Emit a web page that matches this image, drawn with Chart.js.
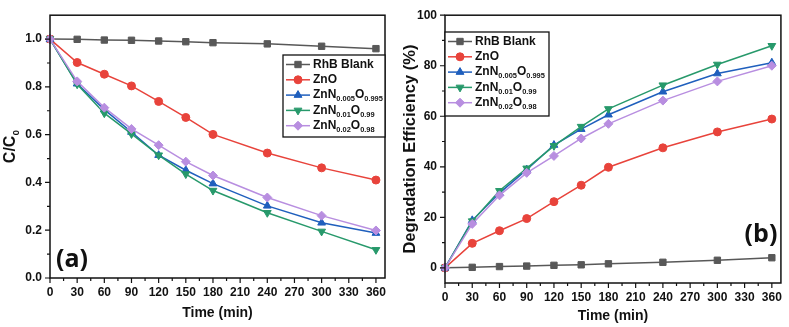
<!DOCTYPE html>
<html>
<head>
<meta charset="utf-8">
<script src="https://cdn.jsdelivr.net/npm/chart.js@4.4.1/dist/chart.umd.min.js"></script>
<style>
  html, body { margin: 0; padding: 0; background: #fff; }
  .panel { position: absolute; top: 0; height: 327px; }
  #panelA { left: 0; width: 395px; }
  #panelB { left: 395px; width: 394px; }
</style>
</head>
<body>
<div class="panel" id="panelA"><canvas id="chartA" width="395" height="327"></canvas></div>
<div class="panel" id="panelB"><canvas id="chartB" width="394" height="327"></canvas></div>
<script>
// sampling times (min)
const times = [0, 30, 60, 90, 120, 150, 180, 240, 300, 360];
const xTicks = [0, 30, 60, 90, 120, 150, 180, 210, 240, 270, 300, 330, 360];
const ratioTicks = [0, 0.2, 0.4, 0.6, 0.8, 1.0];
const effTicks = [0, 20, 40, 60, 80, 100];

const seriesNames = ['RhB Blank', 'ZnO', 'ZnN_{0.005}O_{0.995}', 'ZnN_{0.01}O_{0.99}', 'ZnN_{0.02}O_{0.98}'];

// (a) C/C0
const ratioBlank = [1.0, 0.999, 0.996, 0.995, 0.992, 0.989, 0.985, 0.98, 0.97, 0.96];
const ratioZnO = [1.0, 0.902, 0.853, 0.804, 0.739, 0.672, 0.601, 0.523, 0.461, 0.41];
const ratioN005 = [1.0, 0.813, 0.705, 0.611, 0.514, 0.451, 0.395, 0.302, 0.231, 0.188];
const ratioN01 = [1.0, 0.811, 0.69, 0.603, 0.514, 0.435, 0.366, 0.273, 0.195, 0.118];
const ratioN02 = [1.0, 0.823, 0.713, 0.624, 0.556, 0.487, 0.429, 0.337, 0.261, 0.199];

// (b) degradation efficiency (%)
const effBlank = [0, 0.2, 0.5, 0.7, 1.0, 1.2, 1.6, 2.2, 3.0, 4.0];
const effZnO = [0, 9.7, 14.7, 19.5, 26.2, 32.7, 39.8, 47.5, 53.8, 58.9];
const effN005 = [0, 18.8, 29.6, 38.9, 48.6, 54.9, 60.6, 69.7, 76.9, 81.2];
const effN01 = [0, 18.5, 30.5, 39.4, 48.3, 55.9, 62.9, 72.3, 80.5, 87.9];
const effN02 = [0, 17.4, 28.7, 37.6, 44.3, 51.2, 57.0, 66.2, 73.8, 80.0];

const seriesStyles = [
  { color: '#585858', pointStyle: 'rect', radius: 4.5, rotation: 0 },
  { color: '#e8433b', pointStyle: 'circle', radius: 4, rotation: 0 },
  { color: '#1f5fbd', pointStyle: 'triangle', radius: 4.5, rotation: 0 },
  { color: '#27996b', pointStyle: 'triangle', radius: 4.5, rotation: 180 },
  { color: '#b88ee0', pointStyle: 'rectRot', radius: 4.5, rotation: 0 }
];

const FONT = '"Liberation Sans", Arial, sans-serif';

function buildDatasets(series) {
  return series.map((vals, i) => {
    const s = seriesStyles[i];
    return {
      label: seriesNames[i],
      data: times.map((t, j) => ({ x: t, y: vals[j] })),
      borderColor: s.color,
      backgroundColor: s.color,
      pointBackgroundColor: s.color,
      pointBorderColor: s.color,
      pointStyle: s.pointStyle,
      pointRadius: s.radius,
      pointRotation: s.rotation,
      pointBorderWidth: 1,
      borderWidth: 1.5,
      tension: 0,
      clip: false,
      order: series.length - i
    };
  });
}

// text with _{...} subscripts
const SUB = 0.62;
function drawRich(ctx, text, x, y, size) {
  const parts = text.split(/_\{([^}]*)\}/);
  let cx = x;
  parts.forEach((p, k) => {
    if (!p) return;
    const sub = k % 2 === 1;
    ctx.font = `bold ${sub ? size * SUB : size}px ${FONT}`;
    ctx.fillText(p, cx, sub ? y + size * 0.35 : y);
    cx += ctx.measureText(p).width;
  });
  return cx - x;
}

function richWidth(ctx, text, size) {
  const parts = text.split(/_\{([^}]*)\}/);
  let w = 0;
  parts.forEach((p, k) => {
    if (!p) return;
    ctx.font = `bold ${k % 2 === 1 ? size * SUB : size}px ${FONT}`;
    w += ctx.measureText(p).width;
  });
  return w;
}

function decor(cfg) {
  return {
    id: 'decor',
    afterDraw(chart) {
      const { ctx, chartArea: a, scales: { x, y } } = chart;
      ctx.save();

      // frame + ticks
      ctx.strokeStyle = '#111';
      ctx.lineWidth = 1.5;
      ctx.strokeRect(a.left, a.top, a.right - a.left, a.bottom - a.top);
      ctx.lineWidth = 1.2;
      ctx.beginPath();
      xTicks.forEach((v, i) => {
        const px = x.getPixelForValue(v);
        ctx.moveTo(px, a.bottom); ctx.lineTo(px, a.bottom + 5);
        if (i < xTicks.length - 1) {
          const m = x.getPixelForValue((v + xTicks[i + 1]) / 2);
          ctx.moveTo(m, a.bottom); ctx.lineTo(m, a.bottom + 3);
        }
      });
      cfg.yTicks.forEach((v, i) => {
        const py = y.getPixelForValue(v);
        ctx.moveTo(a.left, py); ctx.lineTo(a.left - 5, py);
        if (i < cfg.yTicks.length - 1) {
          const m = y.getPixelForValue((v + cfg.yTicks[i + 1]) / 2);
          ctx.moveTo(a.left, m); ctx.lineTo(a.left - 3, m);
        }
      });
      ctx.stroke();

      // y title
      ctx.fillStyle = '#111';
      ctx.textBaseline = 'middle';
      ctx.textAlign = 'left';
      ctx.save();
      ctx.translate(cfg.yTitle.x, (a.top + a.bottom) / 2);
      ctx.rotate(-Math.PI / 2);
      const tw = richWidth(ctx, cfg.yTitle.text, cfg.yTitle.size);
      drawRich(ctx, cfg.yTitle.text, -tw / 2, 0, cfg.yTitle.size);
      ctx.restore();

      // legend
      const L = cfg.legend;
      ctx.fillStyle = '#fff';
      ctx.fillRect(L.x, L.y, L.w, L.h);
      ctx.strokeStyle = '#111';
      ctx.lineWidth = 1.3;
      ctx.strokeRect(L.x, L.y, L.w, L.h);
      chart.data.datasets.forEach((ds, i) => {
        const s = seriesStyles[i];
        const ry = L.y + 9.5 + i * 15.3;
        ctx.strokeStyle = s.color;
        ctx.fillStyle = s.color;
        ctx.lineWidth = 1.5;
        ctx.beginPath();
        ctx.moveTo(L.x + 3, ry); ctx.lineTo(L.x + 27, ry);
        ctx.stroke();
        if (Chart.helpers && Chart.helpers.drawPoint) {
          ctx.lineWidth = 1;
          Chart.helpers.drawPoint(ctx, { pointStyle: s.pointStyle, rotation: s.rotation, radius: s.radius, borderWidth: 1 }, L.x + 15, ry);
        }
        ctx.fillStyle = '#111';
        drawRich(ctx, ds.label, L.x + 30, ry, 12);
      });

      // panel label
      ctx.fillStyle = '#111';
      ctx.font = 'bold 25px "Open Sans", sans-serif';
      ctx.textAlign = 'center';
      ctx.fillText(cfg.label.text, cfg.label.x, cfg.label.y);

      ctx.restore();
    }
  };
}

function makeChart(id, series, p) {
  return new Chart(document.getElementById(id), {
    type: 'line',
    data: { datasets: buildDatasets(series) },
    options: {
      responsive: false,
      animation: false,
      layout: { padding: p.padding },
      plugins: { legend: { display: false }, tooltip: { enabled: false } },
      scales: {
        x: {
          type: 'linear',
          min: 0,
          max: 370,
          afterFit: (s) => { s.height = p.xHeight; },
          afterBuildTicks: (s) => { s.ticks = xTicks.map((v) => ({ value: v })); },
          grid: { display: false, drawTicks: false },
          border: { display: false },
          ticks: { color: '#111', padding: 7, maxRotation: 0, autoSkip: false, font: { family: FONT, size: 12, weight: 'bold' } },
          title: { display: true, text: 'Time (min)', color: '#111', padding: { top: 0, bottom: p.xTitlePad }, font: { family: FONT, size: 14, weight: 'bold' } }
        },
        y: {
          type: 'linear',
          min: p.yMin,
          max: p.yMax,
          afterFit: (s) => { s.width = 50; },
          afterBuildTicks: (s) => { s.ticks = p.yTicks.map((v) => ({ value: v })); },
          grid: { display: false, drawTicks: false },
          border: { display: false },
          ticks: { color: '#111', padding: 8, autoSkip: false, font: { family: FONT, size: 12, weight: 'bold' }, callback: p.fmt }
        }
      }
    },
    plugins: [decor(p)]
  });
}

makeChart('chartA', [ratioBlank, ratioZnO, ratioN005, ratioN01, ratioN02], {
  padding: { left: 0, right: 10, top: 8, bottom: 0 },
  xHeight: 49,
  xTitlePad: 5,
  yMin: 0,
  yMax: 1.1,
  yTicks: ratioTicks,
  fmt: (v) => v.toFixed(1),
  yTitle: { text: 'C/C_{0}', x: 11, size: 16 },
  legend: { x: 283, y: 55, w: 102, h: 82 },
  label: { text: '(a)', x: 72, y: 260 }
});

makeChart('chartB', [effBlank, effZnO, effN005, effN01, effN02], {
  padding: { left: 0, right: 4, top: 5, bottom: 0 },
  xHeight: 44,
  xTitlePad: 2,
  yMin: -6,
  yMax: 100,
  yTicks: effTicks,
  fmt: (v) => String(v),
  yTitle: { text: 'Degradation Efficiency (%)', x: 15, size: 16.5 },
  legend: { x: 50, y: 32, w: 104, h: 84 },
  label: { text: '(b)', x: 366, y: 235 }
});
</script>
</body>
</html>
